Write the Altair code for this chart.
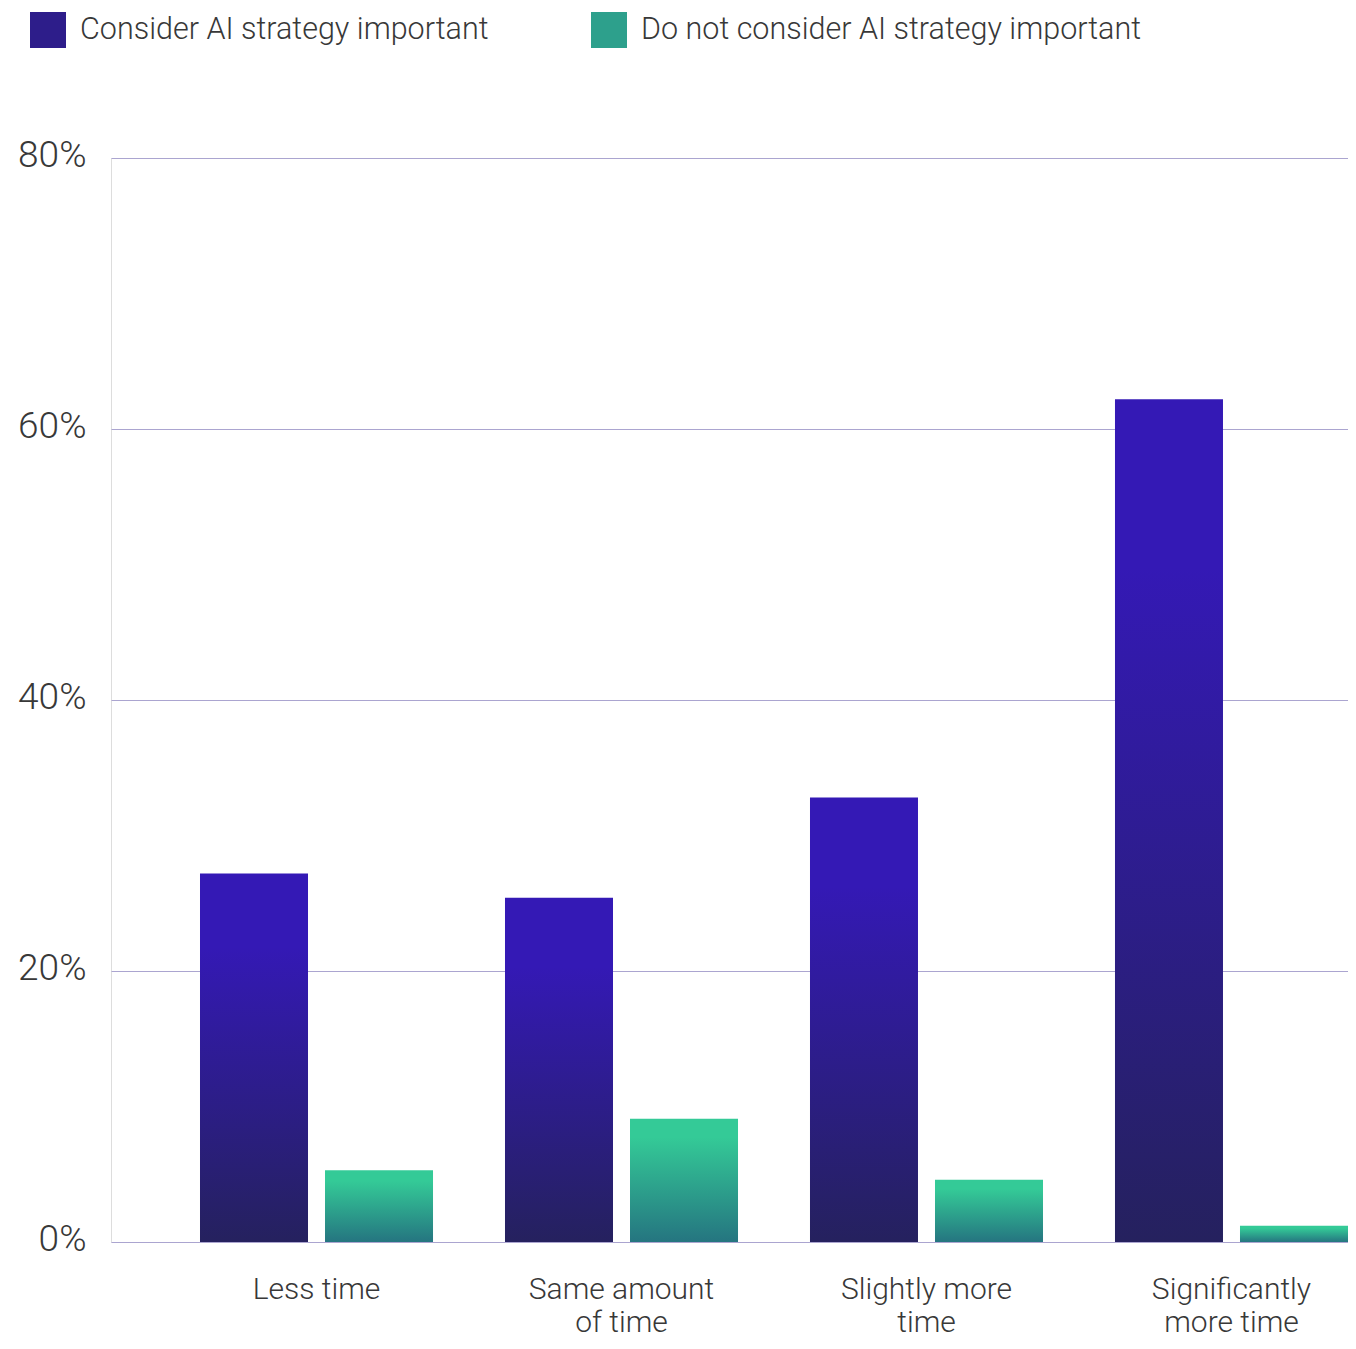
import altair as alt
import pandas as pd

categories = ["Less time", "Same amount|of time", "Slightly more|time", "Significantly|more time"]
series = ["Consider AI strategy important", "Do not consider AI strategy important"]
important = [27.2, 25.4, 32.8, 62.2]
not_important = [5.3, 9.1, 4.6, 1.2]
y_ticks = [0, 20, 40, 60, 80]

rows = []
for c, a, b in zip(categories, important, not_important):
    rows.append({"category": c, "series": series[0], "value": a})
    rows.append({"category": c, "series": series[1], "value": b})
df = pd.DataFrame(rows)

purple_stops = [("#3419B5", 0.0), ("#3419B5", 0.2), ("#25215E", 1.0)]
green_stops = [("#34CA97", 0.0), ("#34CA97", 0.15), ("#257580", 1.0)]


def grad(stops):
    return alt.LinearGradient(
        gradient="linear",
        stops=[alt.GradientStop(color=c, offset=o) for c, o in stops],
        x1=1, x2=1, y1=0, y2=1,
    )


FONT = "Roboto"
TXT = "#383838"

base = alt.Chart(df).encode(
    x=alt.X(
        "category:N",
        sort=categories,
        scale=alt.Scale(paddingInner=0.236, paddingOuter=0.1459, align=1),
        axis=alt.Axis(
            title=None, labelAngle=0, domain=False, ticks=False,
            labelExpr="split(datum.label, '|')",
            labelFont=FONT, labelFontSize=30, labelFontWeight=300,
            labelColor=TXT, labelLineHeight=33, labelBaseline="top",
            labelPadding=32, labelLimit=400, grid=False,
        ),
    ),
    xOffset=alt.XOffset(
        "series:N", sort=series,
        scale=alt.Scale(domain=series, paddingInner=0.136, paddingOuter=0),
    ),
    y=alt.Y(
        "value:Q",
        scale=alt.Scale(domain=[0, 80], nice=False),
        axis=alt.Axis(
            title=None, values=y_ticks, labelExpr="datum.value + '%'",
            domain=False, ticks=False, grid=True,
            gridColor="#ABA5D0", gridWidth=1,
            labelFont=FONT, labelFontSize=37, labelFontWeight=300,
            labelColor=TXT, labelPadding=25, labelOffset=-3,
        ),
    ),
)

bars_a = base.transform_filter(alt.datum.series == series[0]).mark_bar(color=grad(purple_stops))
bars_b = base.transform_filter(alt.datum.series == series[1]).mark_bar(color=grad(green_stops))

legend_layer = base.mark_bar(opacity=0).encode(
    color=alt.Color(
        "series:N",
        scale=alt.Scale(domain=series, range=["#2D1D8A", "#2DA08C"]),
        legend=alt.Legend(
            title=None, orient="none", legendX=-81, legendY=-146,
            direction="horizontal", symbolType="square", symbolSize=1296,
            symbolStrokeWidth=0, symbolOpacity=1, padding=0,
            labelFont=FONT, labelFontSize=30.5, labelFontWeight=300,
            labelColor=TXT, labelOffset=14, columnPadding=102, labelLimit=700,
        ),
    )
)

chart = (
    alt.layer(bars_a, bars_b, legend_layer)
    .properties(
        width=1237, height=1084,
        autosize=alt.AutoSizeParams(type="none"),
        padding={"left": 103, "top": 150, "right": 0, "bottom": 99},
    )
    .configure_view(stroke=None)
    .configure(background="white")
)

chart.save("out.html", embed_options={"renderer": "svg", "actions": False})
